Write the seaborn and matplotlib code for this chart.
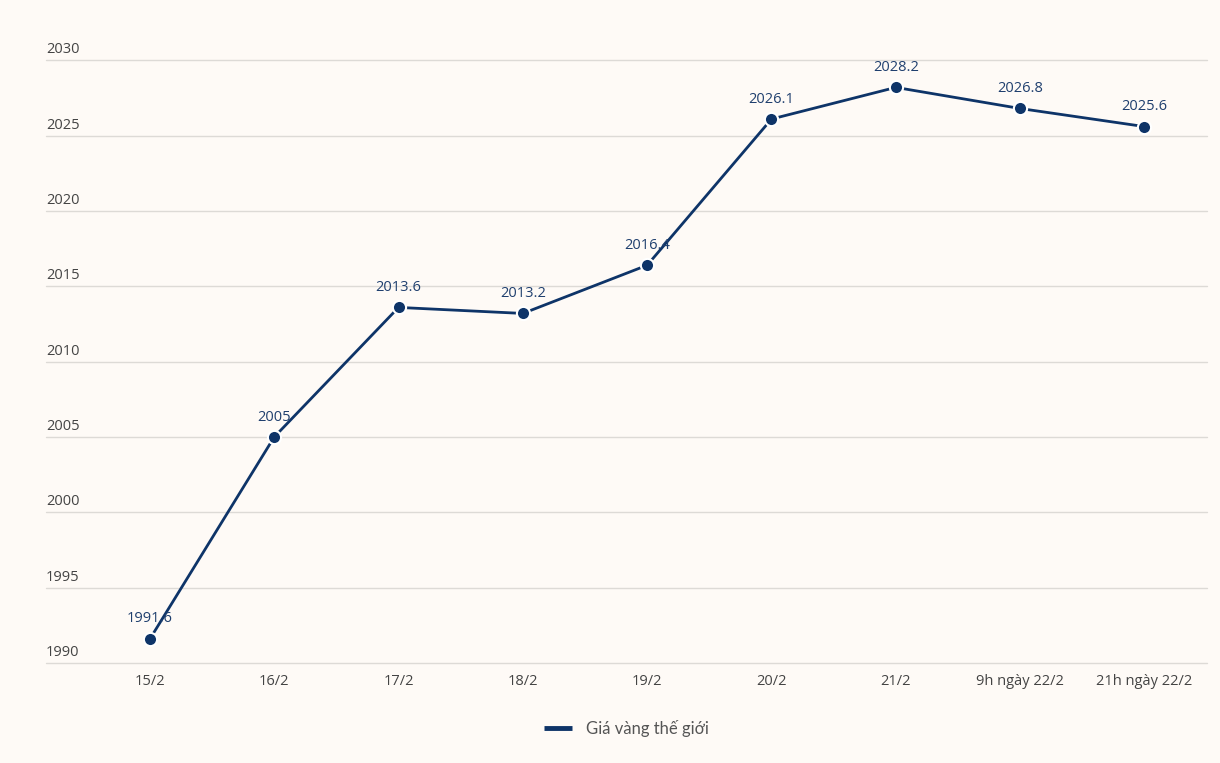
import matplotlib
matplotlib.use("Agg")
import matplotlib.pyplot as plt
import matplotlib.transforms as mtransforms
import seaborn as sns
import pandas as pd

# ── DATA ──────────────────────────────────────────────────
days   = ['15/2', '16/2', '17/2', '18/2', '19/2', '20/2', '21/2',
          '9h ngày 22/2', '21h ngày 22/2']
prices = [1991.6, 2005, 2013.6, 2013.2, 2016.4, 2026.1, 2028.2, 2026.8, 2025.6]
labels = ['1991.6', '2005', '2013.6', '2013.2', '2016.4', '2026.1',
          '2028.2', '2026.8', '2025.6']
yticks = [1990, 1995, 2000, 2005, 2010, 2015, 2020, 2025, 2030]
series_name = 'Giá vàng thế giới'

df = pd.DataFrame({'day': days, 'price': prices, 'idx': range(len(days))})

# ── STYLE ─────────────────────────────────────────────────
bg = '#fefaf6'
navy = '#0e3468'
sns.set_theme(style='white')
plt.rcParams['font.family'] = ['Open Sans', 'DejaVu Sans']

fig = plt.figure(figsize=(12.2, 7.63), dpi=100, facecolor=bg)
ax = fig.add_axes([0.0377, 0.131, 0.9513, 0.790])
ax.set_facecolor(bg)

sns.lineplot(data=df, x='idx', y='price', ax=ax, color=navy, linewidth=2,
             marker='o', markersize=9.5, markeredgecolor='white',
             markeredgewidth=1.5, label=series_name)

for i, (p, lab) in enumerate(zip(prices, labels)):
    ax.annotate(lab, (i, p), xytext=(0, 9), textcoords='offset points',
                ha='center', va='bottom', fontsize=10.5, color='#1f3f6e')

ax.set_xlim(-0.836, 8.5)
ax.set_ylim(1990, 2030)
ax.set_xticks(range(len(days)))
ax.set_xticklabels(days, fontsize=10.5, color='#444444')
ax.set_yticks(yticks)
ax.set_yticklabels([])
ax.tick_params(axis='x', length=0, pad=8)
ax.tick_params(axis='y', length=0)
ax.grid(axis='y', color='#dddad6', linewidth=1)
for gl in ax.get_ygridlines():
    gl.set_clip_on(False)
ax.set_xlabel('')
ax.set_ylabel('')
for s in ax.spines.values():
    s.set_visible(False)

# y labels sit just above the gridlines at the left edge
trans = mtransforms.blended_transform_factory(ax.transAxes, ax.transData)
for t in yticks:
    ax.text(0.0, t + 0.2, str(t), transform=trans, ha='left', va='bottom',
            fontsize=10.5, color='#444444')

leg = ax.legend(loc='upper center', bbox_to_anchor=(0.5, -0.07), frameon=False,
                prop={'family': ['Lato', 'DejaVu Sans'], 'size': 12},
                handlelength=1.7, handletextpad=0.8)
for h in leg.get_lines():
    h.set_linewidth(3.5)
    h.set_marker('')
    h.set_solid_capstyle('butt')
for txt in leg.get_texts():
    txt.set_color('#555555')

fig.savefig('out.png', dpi=100, facecolor=bg)
